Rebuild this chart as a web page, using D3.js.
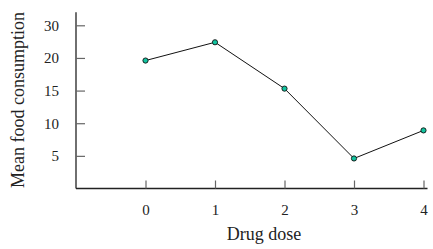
<html lang="en">
<head>
<meta charset="utf-8">
<title>Drug dose vs food consumption</title>
<style>
  body { margin: 0; background: #fff; }
  svg text { font-family: "Liberation Serif", "Times New Roman", serif; fill: #222; }
</style>
<script src="https://cdnjs.cloudflare.com/ajax/libs/d3/7.8.5/d3.min.js"></script>
</head>
<body>
<div id="chart"></div>
<script>
// data
var doses = [0, 1, 2, 3, 4];
var consumption = [19.6, 22.4, 15.3, 4.6, 8.9];

// y ticks as printed (top one is printed "30" at the 25 position)
var yTickValues = [5, 10, 15, 20, 25];
var yTickLabels = ["5", "10", "15", "20", "30"];
var xTickValues = [0, 1, 2, 3, 4];

var width = 433, height = 249;
var svg = d3.select("#chart").append("svg")
    .attr("width", width)
    .attr("height", height);

var x = d3.scaleLinear().domain([-1, 4]).range([76, 423.5]);
var y = d3.scaleLinear().domain([0, 25]).range([188.5, 25.3]);

// axes
var yAxis = d3.axisLeft(y)
    .tickValues(yTickValues)
    .tickFormat(function(d, i) { return yTickLabels[i]; })
    .tickSize(-9)
    .tickPadding(17);

var gy = svg.append("g")
    .attr("transform", "translate(" + x(-1) + ",0)")
    .call(yAxis);
gy.select(".domain").attr("d", "M0," + y(27) + "V" + y(0));

var xAxis = d3.axisBottom(x)
    .tickValues(xTickValues)
    .tickFormat(d3.format("d"))
    .tickSize(-8)
    .tickPadding(16);

var gx = svg.append("g")
    .attr("transform", "translate(0," + y(0) + ")")
    .call(xAxis);
gx.select(".domain").attr("d", "M" + x(-1) + ",0H" + (x(4) + 4));

svg.selectAll("g")
    .attr("font-family", "'Liberation Serif', serif")
    .attr("font-size", 15);
svg.selectAll(".domain").attr("stroke", "#222").attr("stroke-width", 1.3);
svg.selectAll(".tick line").attr("stroke", "#666").attr("stroke-width", 1.2);
svg.selectAll(".tick text")
    .style("font-family", "'Liberation Serif', serif")
    .style("font-size", "15px")
    .attr("fill", "#222");

// line + points
var pts = doses.map(function(d, i) { return [d, consumption[i]]; });

svg.append("path")
    .datum(pts)
    .attr("fill", "none")
    .attr("stroke", "#111")
    .attr("stroke-width", 1)
    .attr("d", d3.line()
        .x(function(d) { return x(d[0]); })
        .y(function(d) { return y(d[1]); }));

svg.selectAll("circle.pt")
    .data(pts)
    .enter().append("circle")
    .attr("class", "pt")
    .attr("cx", function(d) { return x(d[0]); })
    .attr("cy", function(d) { return y(d[1]); })
    .attr("r", 2.6)
    .attr("fill", "#12c4a0")
    .attr("stroke", "#111")
    .attr("stroke-width", 0.9);

// axis titles
svg.append("text")
    .attr("x", 264)
    .attr("y", 240)
    .attr("text-anchor", "middle")
    .style("font-size", "18px")
    .text("Drug dose");

svg.append("text")
    .attr("transform", "translate(24,100) rotate(-90)")
    .attr("text-anchor", "middle")
    .style("font-size", "18px")
    .text("Mean food consumption");
</script>
</body>
</html>
